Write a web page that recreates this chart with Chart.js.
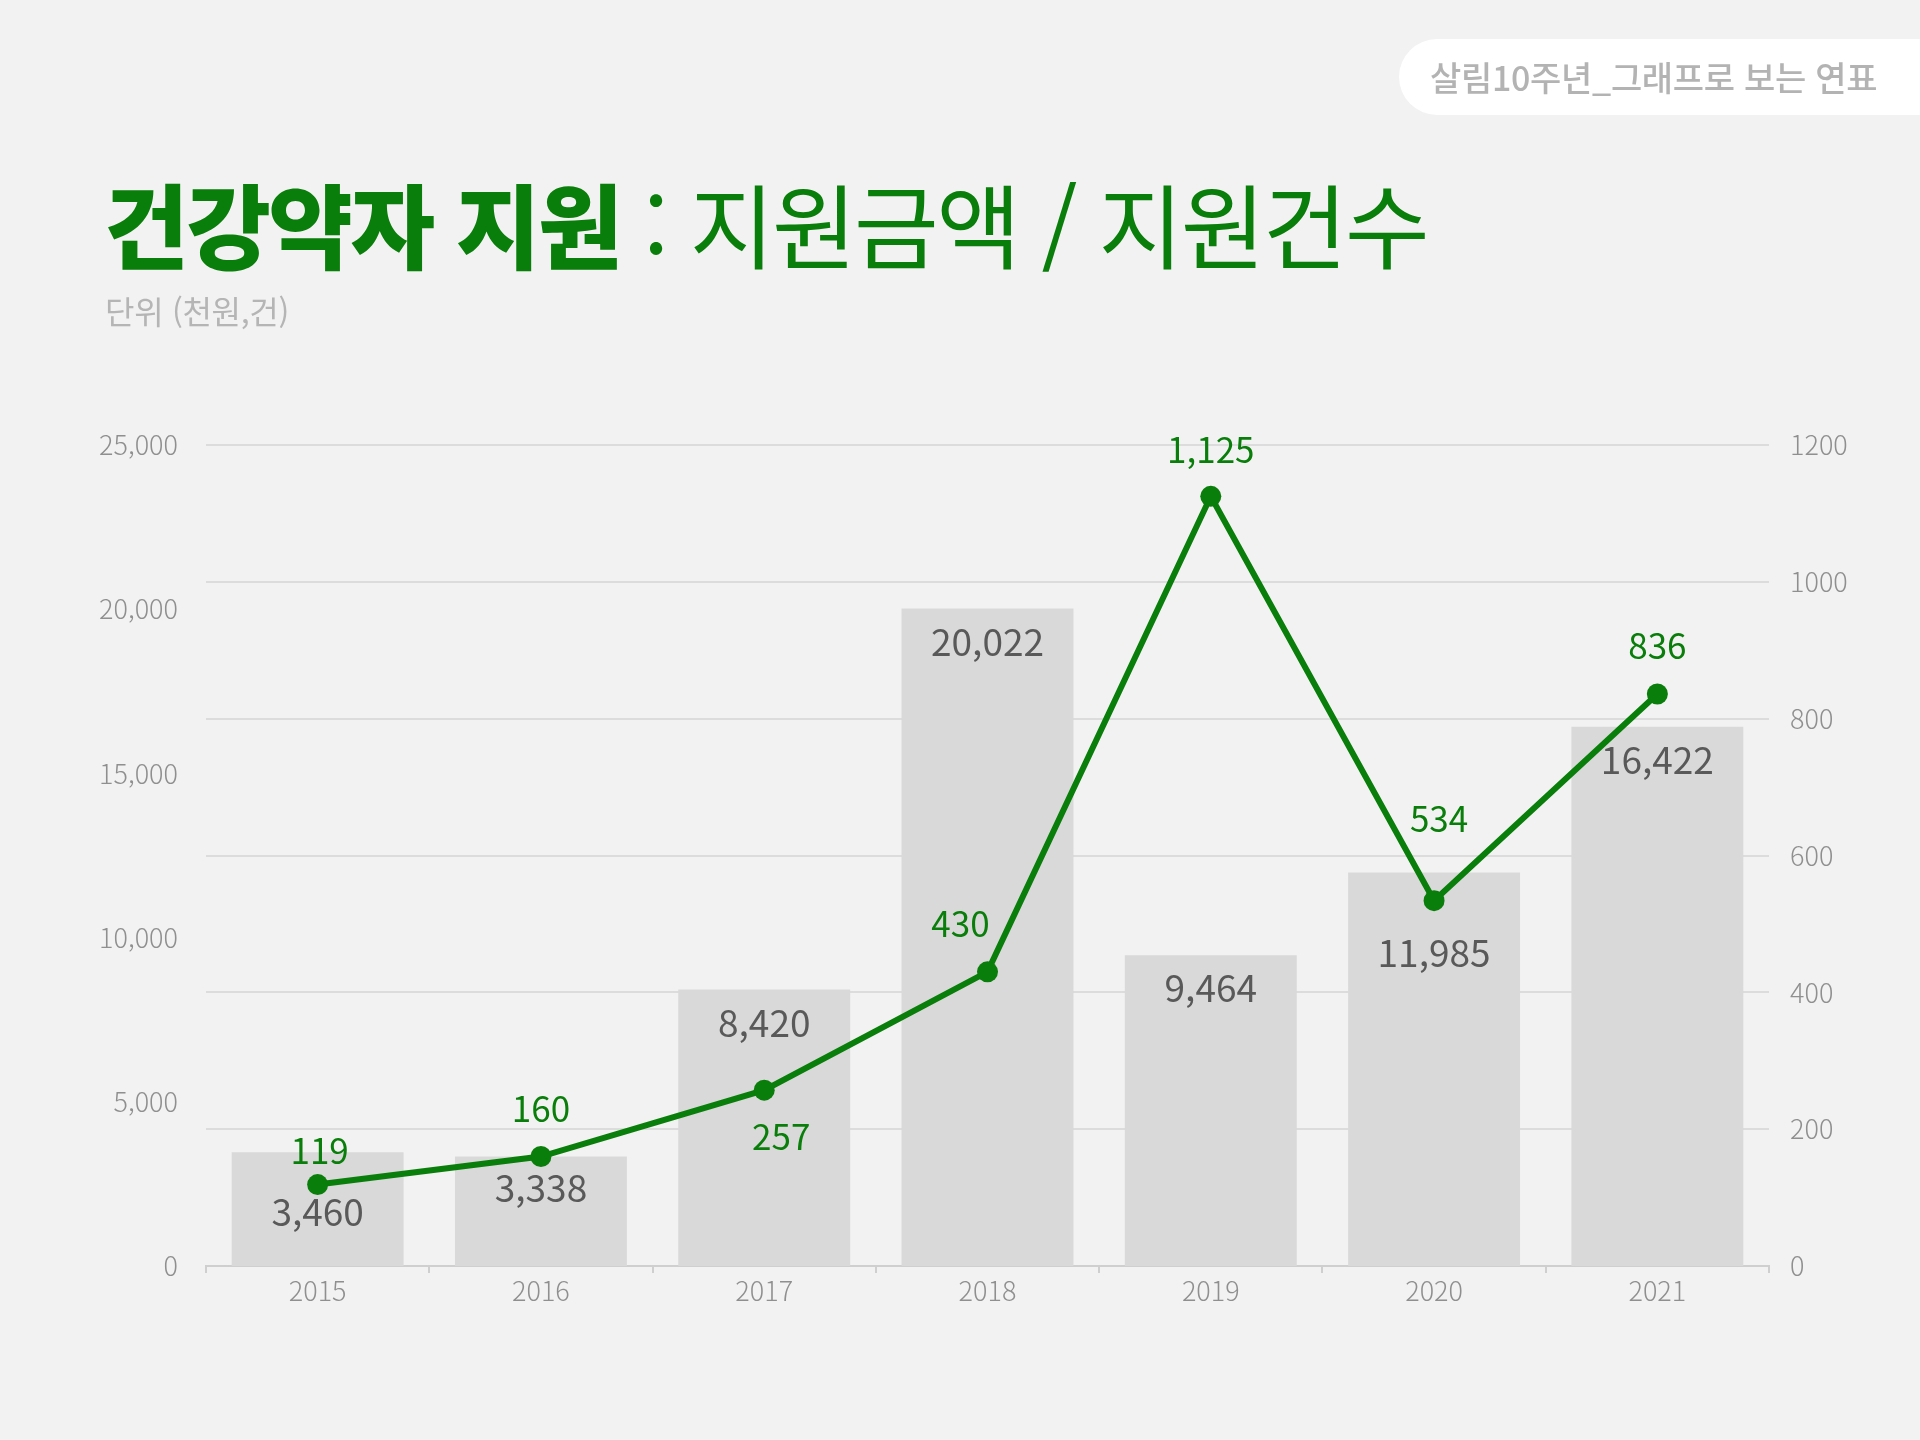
<!DOCTYPE html>
<html lang="ko">
<head>
<meta charset="utf-8">
<script src="https://cdn.jsdelivr.net/npm/chart.js@4.4.1/dist/chart.umd.min.js"></script>
<style>
  html, body { margin: 0; padding: 0; background: #f2f2f2; }
  #wrap { position: relative; width: 1920px; height: 1440px; overflow: hidden; font-family: "Noto Sans CJK KR", "Noto Sans", sans-serif; }
  #chart { position: absolute; left: 0; top: 0; }
  .badge { position: absolute; left: 1399px; top: 39px; width: 560px; height: 76px; background: #fff; border-radius: 38px; }
  .badge span { position: absolute; left: 31px; top: 0; line-height: 76px; font-size: 34px; font-weight: 500; color: #b3b3b3; white-space: nowrap; letter-spacing: -0.3px; }
  .title { position: absolute; left: 104px; top: 162px; font-size: 92px; line-height: 120px; color: #0a7e0a; white-space: nowrap; letter-spacing: -2.5px; }
  .title b { font-weight: 900; }
  .title span { font-weight: 400; }
  .unit { position: absolute; left: 105px; top: 287px; font-size: 32px; color: #b5b5b5; font-weight: 400; letter-spacing: -0.3px; }
</style>
</head>
<body>
<div id="wrap">
  <canvas id="chart" width="1920" height="1440"></canvas>
  <div class="badge"><span>살림10주년_그래프로 보는 연표</span></div>
  <div class="title"><b>건강약자 지원</b><span> : 지원금액 / 지원건수</span></div>
  <div class="unit">단위 (천원,건)</div>
</div>
<script>
document.addEventListener('DOMContentLoaded', function () {
    const years = ['2015', '2016', '2017', '2018', '2019', '2020', '2021'];
    const amounts = [3460, 3338, 8420, 20022, 9464, 11985, 16422];   // 지원금액 (천원)
    const counts = [119, 160, 257, 430, 1125, 534, 836];             // 지원건수 (건)

    // where each value label sits, relative to its bar top / point (px)
    const barLabelShift = [[0, 60], [0, 32], [0, 33], [0, 33], [0, 33], [0, 81], [0, 33]];
    const lineLabelShift = [[2, -34], [0, -48], [17, 47], [-27, -48], [0, -47], [5, -82], [0, -48]];

    const green = '#0a7e0a';
    const fmt = v => v.toLocaleString('en-US');

    const valueLabels = {
        id: 'valueLabels',
        afterDatasetsDraw(chart) {
            const c = chart.ctx;
            c.save();
            c.textAlign = 'center';
            c.textBaseline = 'middle';

            const bars = chart.getDatasetMeta(1).data;
            c.font = '400 37px "Noto Sans CJK KR", sans-serif';
            c.fillStyle = '#595959';
            bars.forEach((bar, i) => {
                c.fillText(fmt(amounts[i]), bar.x + barLabelShift[i][0], bar.y + barLabelShift[i][1]);
            });

            const pts = chart.getDatasetMeta(0).data;
            c.font = '400 35px "Noto Sans CJK KR", sans-serif';
            c.fillStyle = green;
            pts.forEach((p, i) => {
                c.fillText(fmt(counts[i]), p.x + lineLabelShift[i][0], p.y + lineLabelShift[i][1]);
            });
            c.restore();
        }
    };

    const tickFont = { family: '"Noto Sans CJK KR", sans-serif', size: 27, weight: 300 };

    new Chart(document.getElementById('chart').getContext('2d'), {
        type: 'bar',
        data: {
            labels: years,
            datasets: [
                {
                    type: 'line',
                    label: '지원건수',
                    data: counts,
                    yAxisID: 'y1',
                    borderColor: green,
                    backgroundColor: green,
                    borderWidth: 6,
                    pointRadius: 10.5,
                    pointHoverRadius: 10.5,
                    pointBackgroundColor: green,
                    pointBorderWidth: 0,
                    tension: 0,
                    order: 0
                },
                {
                    label: '지원금액',
                    data: amounts,
                    yAxisID: 'y',
                    backgroundColor: '#d9d9d9',
                    barPercentage: 0.77,
                    categoryPercentage: 1,
                    order: 1
                }
            ]
        },
        options: {
            responsive: false,
            animation: false,
            layout: { padding: { top: 445, left: 0, right: 0, bottom: 0 } },
            plugins: {
                legend: { display: false },
                tooltip: { enabled: false }
            },
            scales: {
                x: {
                    offset: true,
                    grid: { display: true, drawOnChartArea: false, drawTicks: true, tickLength: 7, color: '#cfcfcf', lineWidth: 2, offset: true },
                    border: { display: true, color: '#cfcfcf', width: 2 },
                    ticks: { color: '#8f8f8f', font: tickFont, padding: 2 },
                    afterFit: s => { s.height = 174; }
                },
                y: {
                    position: 'left',
                    min: 0,
                    max: 25000,
                    ticks: { stepSize: 5000, color: '#8f8f8f', font: tickFont, padding: 20 },
                    grid: { display: false },
                    border: { display: false },
                    afterFit: s => { s.width = 206; }
                },
                y1: {
                    position: 'right',
                    min: 0,
                    max: 1200,
                    ticks: { stepSize: 200, color: '#8f8f8f', font: tickFont, padding: 21, callback: v => String(v) },
                    grid: { display: true, drawTicks: false, color: '#dcdcdc', lineWidth: 2 },
                    border: { display: false },
                    afterFit: s => { s.width = 151; }
                }
            }
        },
        plugins: [valueLabels]
    });
});
</script>
</body>
</html>
